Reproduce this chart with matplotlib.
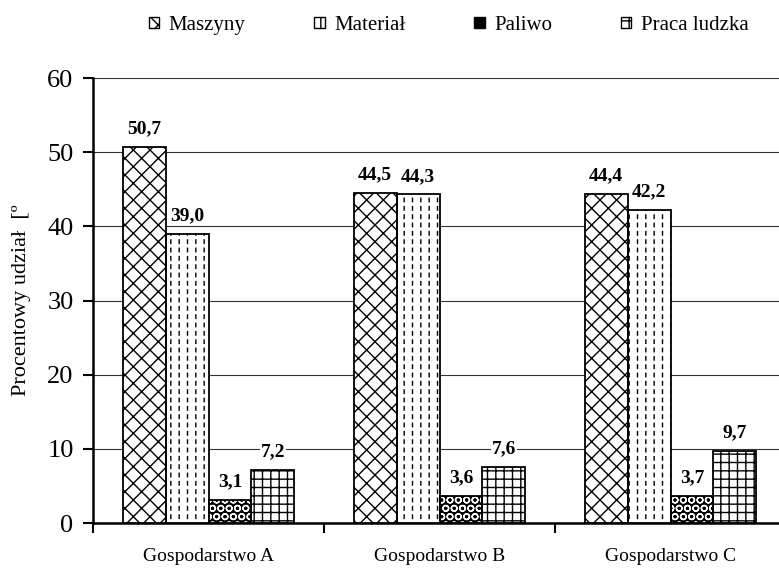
import numpy as np
import matplotlib
matplotlib.use("Agg")
import matplotlib.pyplot as plt
from matplotlib.patches import Patch

# data
groups = ["Gospodarstwo A", "Gospodarstwo B", "Gospodarstwo C"]
series = ["Maszyny", "Materiał", "Paliwo", "Praca ludzka"]
maszyny = [50.7, 44.5, 44.4]
material = [39.0, 44.3, 42.2]
paliwo = [3.1, 3.6, 3.7]
praca = [7.2, 7.6, 9.7]
values = [maszyny, material, paliwo, praca]
labels = [["50,7", "44,5", "44,4"],
          ["39,0", "44,3", "42,2"],
          ["3,1", "3,6", "3,7"],
          ["7,2", "7,6", "9,7"]]

plt.rcParams['font.family'] = ['Liberation Serif', 'DejaVu Serif']
plt.rcParams['hatch.linewidth'] = 1.0

hatches = ["xx", "||", "OO", "++"]
faces = ["white", "white", "black", "white"]
hatch_cols = ["black", "black", "white", "black"]

fig = plt.figure(figsize=(7.79, 5.69), dpi=100)
ax = fig.add_axes([0.1194, 0.0808, 0.8896, 0.782])

x = np.arange(len(groups))
w = 0.186
offsets = (np.arange(4) - 1.5) * w

for i, vals in enumerate(values):
    pos = x + offsets[i]
    ax.bar(pos, vals, w, color=faces[i], edgecolor=hatch_cols[i], hatch=hatches[i],
           linewidth=0, zorder=3)
    if series[i] == "Materiał":
        # white horizontal hatch breaks the vertical lines into dashes
        with plt.rc_context({'hatch.linewidth': 2.5}):
            ax.bar(pos, vals, w, color="none", edgecolor="white", hatch="--",
                   linewidth=0, zorder=3.5)
    ax.bar(pos, vals, w, color="none", edgecolor="black", linewidth=1.3, zorder=4)
    for p, v, t in zip(pos, vals, labels[i]):
        ax.text(p, v + 1.3, t, ha="center", va="bottom", fontsize=14,
                fontweight="bold", zorder=5,
                bbox=dict(facecolor="white", edgecolor="none", pad=0.5))

ax.set_ylim(0, 60)
ax.set_xlim(-0.5, 2.5)
ax.set_yticks(range(0, 61, 10))
ax.tick_params(axis="y", labelsize=19, direction="out", length=7, width=1.5, pad=7)
ax.yaxis.grid(True, color="#333333", linewidth=0.8, zorder=0)
ax.set_axisbelow(True)

ax.set_xticks([-0.5, 0.5, 1.5, 2.5])
ax.set_xticklabels([])
ax.set_xticks(x, minor=True)
ax.set_xticklabels(groups, minor=True, fontsize=14)
ax.tick_params(axis="x", which="major", direction="out", length=7, width=1.5)
ax.tick_params(axis="x", which="minor", length=0, pad=18)

for s in ["top", "right"]:
    ax.spines[s].set_visible(False)
ax.spines["left"].set_linewidth(1.8)
ax.spines["bottom"].set_linewidth(1.8)

ax.set_ylabel("Procentowy udział  [º", fontsize=16, labelpad=12)

handles = [Patch(facecolor=faces[i], edgecolor="black", hatch=hatches[i], label=series[i])
           for i in range(4)]
fig.legend(handles=handles, loc="upper center", bbox_to_anchor=(0.576, 1.005),
           ncol=4, frameon=False, fontsize=15, handlelength=0.5, handleheight=0.5,
           handletextpad=0.45, columnspacing=3.3)

fig.savefig("out.png", dpi=100)
